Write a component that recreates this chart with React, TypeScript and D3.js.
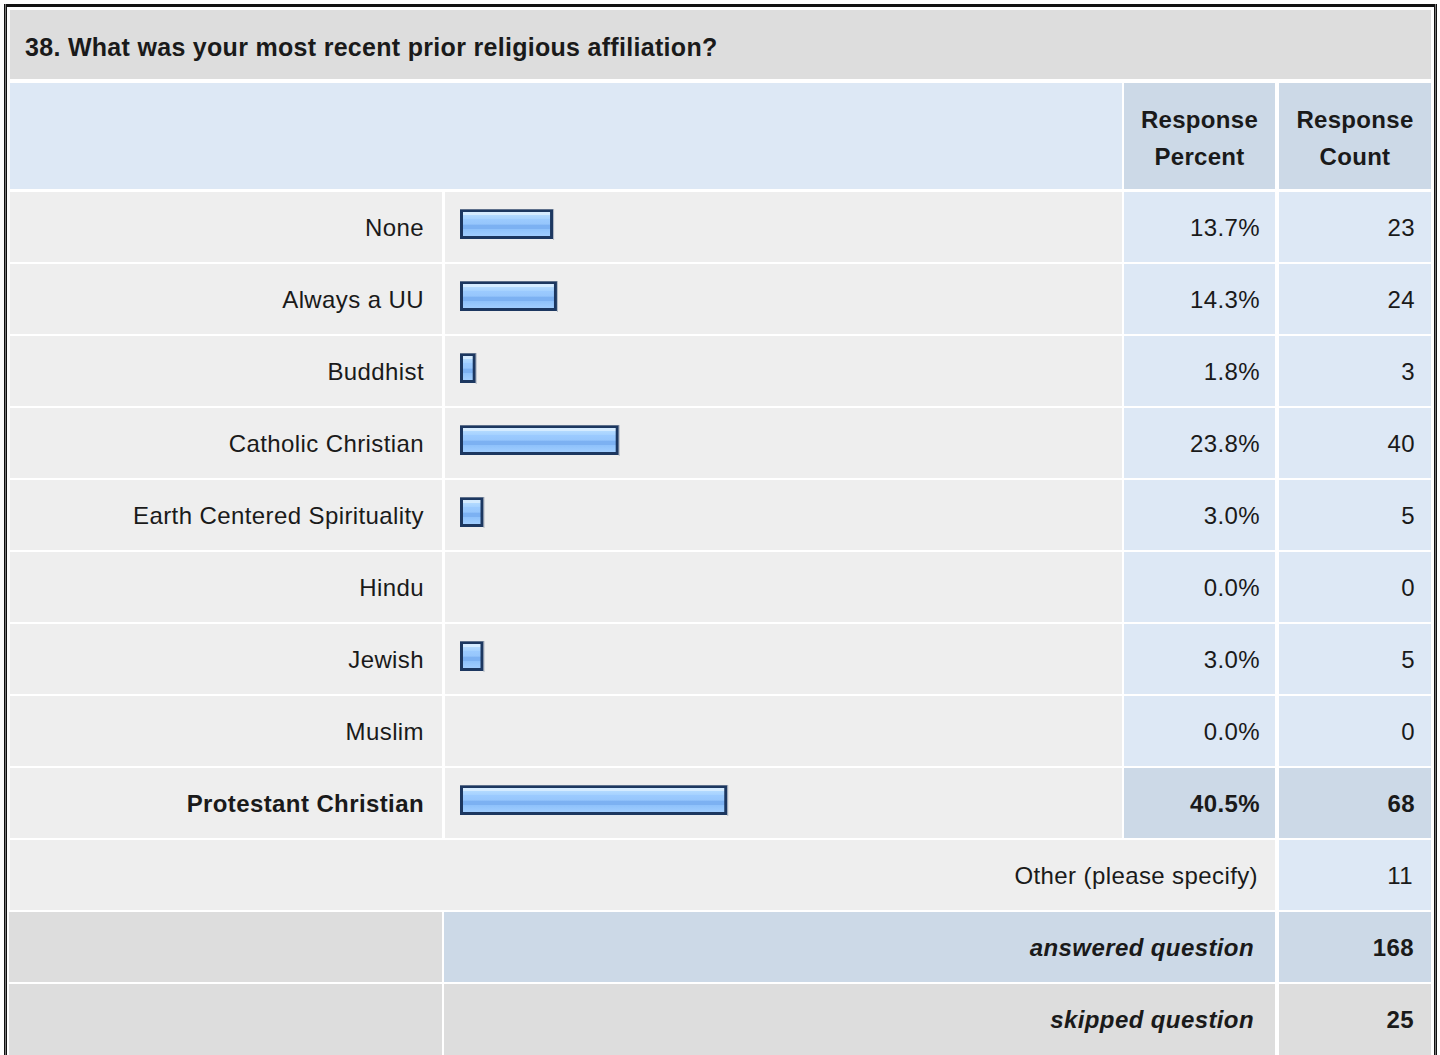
import React from "react";
import * as d3 from "d3";

const title = "38. What was your most recent prior religious affiliation?";
const categories = [
  "None",
  "Always a UU",
  "Buddhist",
  "Catholic Christian",
  "Earth Centered Spirituality",
  "Hindu",
  "Jewish",
  "Muslim",
  "Protestant Christian",
];
const percents = [13.7, 14.3, 1.8, 23.8, 3.0, 0.0, 3.0, 0.0, 40.5];
const counts = [23, 24, 3, 40, 5, 0, 5, 0, 68];
const otherLabel = "Other (please specify)";
const otherCount = 11;
const answeredCount = 168;
const skippedCount = 25;

const W = 1440;
const H = 1055;
const FONT = "'Liberation Sans', Arial, Helvetica, sans-serif";

const C_TITLE = "#dddddd";
const C_GRAY = "#eeeeee";
const C_BLUE = "#dde8f5";
const C_BLUE2 = "#ccd9e7";
const C_TEXT = "#1a1a1a";

export default function App() {
  const y = d3
    .scaleBand<string>()
    .domain(categories)
    .range([192, 838])
    .paddingInner(2 / 72)
    .paddingOuter(0);
  const bw = y.bandwidth();
  const x = d3.scaleLinear().domain([0, 100]).range([0, 650]);
  const maxP = d3.max(percents) as number;

  const colLabel = [10, 442];
  const colBar = [445, 1122];
  const colPct = [1124, 1275];
  const colCnt = [1279, 1431];

  const label = (t: string, xx: number, yy: number, opts: any = {}) => (
    <text
      x={xx}
      y={yy}
      fontFamily={FONT}
      fontSize={opts.size || 24}
      fontWeight={opts.bold ? "bold" : "normal"}
      fontStyle={opts.italic ? "italic" : "normal"}
      letterSpacing={opts.ls ?? 0.4}
      textAnchor={opts.anchor || "end"}
      fill={C_TEXT}
    >
      {t}
    </text>
  );

  const otherTop = 840;
  const answeredTop = 912;
  const skippedTop = 984;

  return (
    <svg
      width={W}
      height={H}
      style={{ position: "absolute", left: 0, top: 0, background: "#fff" }}
    >
      <defs>
        <linearGradient id="barGrad" x1="0" y1="0" x2="0" y2="1">
          <stop offset="0" stopColor="#d4ebff" />
          <stop offset="0.15" stopColor="#d4ebff" />
          <stop offset="0.15" stopColor="#b4dbff" />
          <stop offset="0.3" stopColor="#a6d2ff" />
          <stop offset="0.3" stopColor="#9ccbff" />
          <stop offset="0.5" stopColor="#96c6fc" />
          <stop offset="0.55" stopColor="#7cb1f2" />
          <stop offset="0.7" stopColor="#7cb1f2" />
          <stop offset="0.7" stopColor="#8fc2fb" />
          <stop offset="1" stopColor="#a4d0ff" />
        </linearGradient>
      </defs>
      <rect x={0} y={0} width={W} height={H} fill="#fff" />
      {/* outer border */}
      <rect
        x={5.5}
        y={5.5}
        width={1430}
        height={1100}
        fill="none"
        stroke="#111"
        strokeWidth={3}
      />
      <line x1={5.5} y1={4} x2={5.5} y2={H} stroke="#777" strokeWidth={1} />
      <line x1={1435.5} y1={4} x2={1435.5} y2={H} stroke="#777" strokeWidth={1} />

      {/* title */}
      <rect x={10} y={10} width={1421} height={69} fill={C_TITLE} />
      {label(title, 25, 56, { bold: true, size: 25, ls: 0.3, anchor: "start" })}

      {/* header */}
      <rect x={10} y={83} width={colBar[1] - 10} height={106} fill={C_BLUE} />
      <rect x={colPct[0]} y={83} width={colPct[1] - colPct[0]} height={106} fill={C_BLUE2} />
      <rect x={colCnt[0]} y={83} width={colCnt[1] - colCnt[0]} height={106} fill={C_BLUE2} />
      {label("Response", (colPct[0] + colPct[1]) / 2, 127.5, { bold: true, anchor: "middle", ls: 0.3 })}
      {label("Percent", (colPct[0] + colPct[1]) / 2, 165, { bold: true, anchor: "middle", ls: 0.3 })}
      {label("Response", (colCnt[0] + colCnt[1]) / 2, 127.5, { bold: true, anchor: "middle", ls: 0.3 })}
      {label("Count", (colCnt[0] + colCnt[1]) / 2, 165, { bold: true, anchor: "middle", ls: 0.3 })}

      {/* data rows */}
      {categories.map((c, i) => {
        const top = y(c) as number;
        const cy = top + bw / 2;
        const p = percents[i];
        const isMax = p === maxP;
        const cellFill = isMax ? C_BLUE2 : C_BLUE;
        const barW = p > 0 ? x(p) + 4 : 0;
        return (
          <g key={c}>
            <rect x={colLabel[0]} y={top} width={colLabel[1] - colLabel[0]} height={bw} fill={C_GRAY} />
            <rect x={colBar[0]} y={top} width={colBar[1] - colBar[0]} height={bw} fill={C_GRAY} />
            <rect x={colPct[0]} y={top} width={colPct[1] - colPct[0]} height={bw} fill={cellFill} />
            <rect x={colCnt[0]} y={top} width={colCnt[1] - colCnt[0]} height={bw} fill={cellFill} />
            {label(c, 424, cy + 8.5, { bold: isMax })}
            {barW > 0 && (
              <g>
                <rect
                  x={461.5}
                  y={top + 18.5}
                  width={barW - 3}
                  height={27}
                  fill="url(#barGrad)"
                  stroke="#1c3760"
                  strokeWidth={3}
                />
                <line
                  x1={460}
                  y1={top + 17.5}
                  x2={460 + barW}
                  y2={top + 17.5}
                  stroke="#8a96a8"
                  strokeWidth={1}
                  opacity={0.6}
                />
                <line
                  x1={460 + barW + 0.5}
                  y1={top + 17}
                  x2={460 + barW + 0.5}
                  y2={top + 48}
                  stroke="#8a96a8"
                  strokeWidth={1}
                  opacity={0.6}
                />
              </g>
            )}
            {label(d3.format(".1f")(p) + "%", 1260, cy + 8.5, { bold: isMax })}
            {label(String(counts[i]), 1415, cy + 8.5, { bold: isMax })}
          </g>
        );
      })}

      {/* other row */}
      <rect x={10} y={otherTop} width={colPct[1] - 10} height={70} fill={C_GRAY} />
      <rect x={colCnt[0]} y={otherTop} width={colCnt[1] - colCnt[0]} height={70} fill={C_BLUE} />
      {label(otherLabel, 1258, otherTop + 35 + 8.5)}
      {label(String(otherCount), 1413, otherTop + 35 + 8.5)}

      {/* answered row */}
      <rect x={9} y={answeredTop} width={442 - 9} height={70} fill={C_TITLE} />
      <rect x={444} y={answeredTop} width={colPct[1] - 444} height={70} fill={C_BLUE2} />
      <rect x={colCnt[0]} y={answeredTop} width={colCnt[1] - colCnt[0]} height={70} fill={C_BLUE2} />
      {label("answered question", 1254, answeredTop + 35 + 8.5, { bold: true, italic: true })}
      {label(String(answeredCount), 1414, answeredTop + 35 + 8.5, { bold: true })}

      {/* skipped row */}
      <rect x={9} y={skippedTop} width={442 - 9} height={80} fill={C_TITLE} />
      <rect x={444} y={skippedTop} width={colPct[1] - 444} height={80} fill={C_TITLE} />
      <rect x={colCnt[0]} y={skippedTop} width={colCnt[1] - colCnt[0]} height={80} fill={C_TITLE} />
      {label("skipped question", 1254, skippedTop + 35 + 8.5, { bold: true, italic: true })}
      {label(String(skippedCount), 1414, skippedTop + 35 + 8.5, { bold: true })}
    </svg>
  );
}
